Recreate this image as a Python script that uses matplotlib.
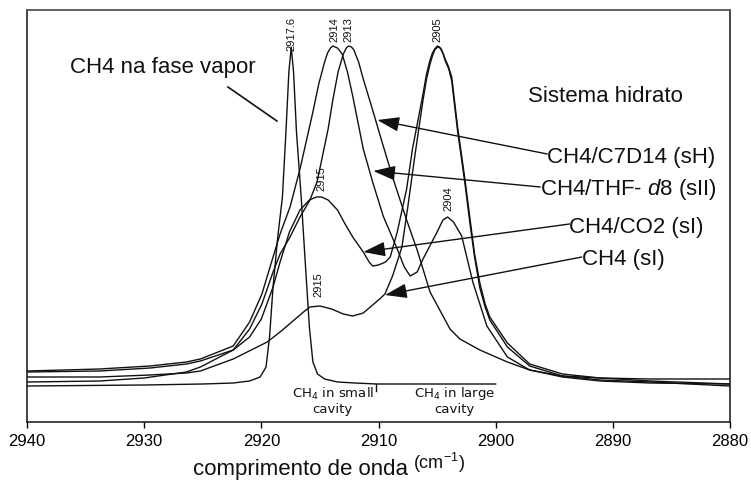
import matplotlib
matplotlib.use("Agg")
import matplotlib.pyplot as plt

plt.rcParams['font.family'] = ['Liberation Sans', 'DejaVu Sans']
plt.rcParams['mathtext.fontset'] = 'custom'
plt.rcParams['mathtext.rm'] = 'Liberation Sans'
plt.rcParams['mathtext.it'] = 'Liberation Sans:italic'

#---------------- DADOS ----------------

# CH4 na fase vapor
vapor_w = [2940.0, 2930.0, 2925.0, 2922.4, 2921.0, 2920.1, 2919.6, 2919.3, 2919.0, 2918.6,
           2918.2, 2917.9, 2917.65, 2917.45, 2917.25, 2917.0, 2916.6, 2916.2, 2915.9, 2915.6,
           2915.2, 2914.6, 2913.5, 2912.0, 2910.2, 2905.0, 2900.0]
vapor_i = [36, 37, 38, 39, 41, 45, 55, 85, 135, 185,
           225, 290, 350, 375, 350, 290, 225, 150, 95, 60,
           48, 43, 40, 39, 38, 38, 38]

# CH4 (sI)
ch4_w = [2940.0, 2933.8, 2929.5, 2926.4, 2925.2, 2922.4, 2919.5, 2918.4, 2917.6, 2916.7,
         2916.3, 2915.85, 2915.0, 2914.0, 2913.0, 2912.2, 2911.3, 2910.5, 2909.9, 2909.45,
         2908.8, 2908.0, 2907.5, 2906.9, 2906.2, 2905.9, 2905.6, 2905.4, 2905.2, 2905.05,
         2904.9, 2904.75, 2904.6, 2904.45, 2904.3, 2904.0, 2903.75, 2903.25, 2902.65, 2902.2,
         2901.8, 2901.35, 2900.9, 2900.5, 2899.0, 2897.1, 2894.3, 2891.1, 2886.8, 2880.0]
ch4_i = [45, 45, 47, 49, 51, 63, 80, 90, 98, 107,
         111, 115, 116, 113, 108, 106, 109, 117, 123, 128,
         146, 175, 215, 266, 322, 343, 358, 366, 372, 374,
         375, 374, 371, 367, 361, 353, 341, 291, 241, 199,
         165, 134, 115, 102, 75, 56, 46, 42, 40, 36]

# CH4/CO2 (sI)
co2_w = [2940.0, 2933.8, 2930.0, 2926.4, 2925.2, 2922.4, 2921.0, 2920.0, 2919.0, 2918.4,
         2917.6, 2916.7, 2915.9, 2915.3, 2914.85, 2914.3, 2913.5, 2912.9, 2912.2, 2911.3,
         2910.8, 2910.5, 2910.0, 2909.4, 2909.0, 2908.4, 2907.6, 2907.1, 2906.2, 2905.9,
         2905.6, 2905.4, 2905.2, 2905.05, 2904.95, 2904.8, 2904.65, 2904.5, 2904.35, 2904.05,
         2903.75, 2903.25, 2902.65, 2902.2, 2901.8, 2901.35, 2900.9, 2900.5, 2899.0, 2897.1,
         2894.3, 2891.1, 2886.8, 2880.0]
co2_i = [40, 41, 44, 50, 55, 72, 85, 103, 135, 160,
         190, 212, 222, 225, 225, 222, 212, 199, 185, 170,
         160, 156, 157, 160, 165, 190, 233, 273, 328, 348,
         362, 369, 373, 375, 376, 375, 373, 369, 364, 356,
         345, 295, 245, 204, 168, 139, 118, 105, 79, 58,
         48, 44, 41, 38]

# CH4/THF-d8 (sII)
thf_w = [2940.0, 2933.8, 2929.5, 2926.4, 2925.2, 2922.4, 2921.0, 2919.95, 2919.0, 2918.4,
         2917.55, 2916.7, 2915.6, 2915.1, 2914.6, 2914.35, 2914.1, 2913.9, 2913.7, 2913.5,
         2913.1, 2912.65, 2912.2, 2911.3, 2910.5, 2909.6, 2908.4, 2907.8, 2907.3, 2906.7,
         2906.2, 2905.0, 2904.5, 2904.1, 2903.6, 2902.9, 2901.95, 2900.75, 2899.0, 2897.1,
         2894.3, 2891.1, 2886.8, 2880.0]
thf_i = [51, 53, 56, 60, 63, 76, 100, 128, 165, 188,
         215, 253, 310, 338, 360, 369, 374, 376, 375, 374,
         368, 350, 326, 273, 240, 206, 173, 155, 146, 150,
         163, 190, 202, 205, 200, 186, 140, 96, 65, 52,
         45, 41, 39, 38]

# CH4/C7D14 (sH)
c7_w = [2940.0, 2933.8, 2929.5, 2926.4, 2925.2, 2922.4, 2921.0, 2919.95, 2919.0, 2918.4,
        2917.55, 2916.7, 2915.85, 2915.25, 2914.85, 2914.3, 2913.9, 2913.45, 2913.0, 2912.75,
        2912.55, 2912.3, 2912.1, 2911.7, 2911.3, 2910.5, 2909.9, 2908.8, 2907.6, 2906.7,
        2905.6, 2903.9, 2903.05, 2901.35, 2899.0, 2897.1, 2894.3, 2891.1, 2886.8, 2880.0]
c7_i = [50, 51, 54, 58, 61, 72, 93, 118, 150, 168,
        185, 205, 222, 240, 262, 293, 322, 350, 368, 374,
        376, 375, 372, 360, 343, 312, 288, 245, 202, 172,
        130, 93, 83, 72, 60, 52, 46, 44, 43, 43]

# rotulos dos picos (texto, posicao, base do texto)
picos_txt = ['2917.6', '2914', '2913', '2905', '2915', '2904', '2915']
picos_w = [2917.4, 2913.75, 2912.55, 2904.95, 2914.85, 2904.0, 2915.1]
picos_i = [372, 381, 381, 381, 232, 212, 126]

# legendas com setas: texto, posicao do texto, ponta da seta
leg_txt = ['CH4/C7D14 (sH)', r'CH4/THF- $\mathit{d8}$ (sII)', 'CH4/CO2 (sI)', 'CH4 (sI)']
leg_w = [2895.6, 2896.2, 2893.7, 2892.65]
leg_i = [266, 233, 196, 163]
seta_w = [2910.1, 2910.45, 2911.3, 2909.45]
seta_i = [302, 251, 170, 127]

xticks = [2940, 2930, 2920, 2910, 2900, 2890, 2880]


#---------------- GRAFICO ----------------

fig = plt.figure(figsize=(7.51, 4.85), dpi=100)
ax = fig.add_axes([27/751, 62/485, 703/751, 412/485])

cor = '#111111'
ax.plot(vapor_w, vapor_i, color=cor, lw=1.0)
ax.plot(ch4_w, ch4_i, color=cor, lw=1.0)
ax.plot(co2_w, co2_i, color=cor, lw=1.0)
ax.plot(thf_w, thf_i, color=cor, lw=1.0)
ax.plot(c7_w, c7_i, color=cor, lw=1.0)

# pequeno traco vertical do "small cavity"
ax.plot([vapor_w[-3], vapor_w[-3]], [vapor_i[-3], vapor_i[-3] - 7], color=cor, lw=1.0)

for t, w, i in zip(picos_txt, picos_w, picos_i):
    ax.text(w, i, t, rotation=90, ha='center', va='bottom', fontsize=8, color=cor, clip_on=True)

for t, w, i, sw, si in zip(leg_txt, leg_w, leg_i, seta_w, seta_i):
    ax.text(w, i, t, ha='left', va='center', fontsize=16, color=cor)
    ax.annotate('', xy=(sw, si), xytext=(w, i + 2),
                arrowprops=dict(arrowstyle='-|>,head_length=0.9,head_width=0.3',
                                color=cor, lw=1.0, mutation_scale=15,
                                shrinkA=0, shrinkB=0))

ax.text(2936.3, 355, 'CH4 na fase vapor', ha='left', va='center', fontsize=16, color=cor)
ax.plot([2922.85, 2918.67], [335, 301], color=cor, lw=1.2)
ax.text(2897.25, 326, 'Sistema hidrato', ha='left', va='center', fontsize=16, color=cor)

ax.text(2913.9, 22, 'CH$_4$ in small\ncavity', ha='center', va='center', fontsize=9.5,
        family='DejaVu Sans', linespacing=1.1, color=cor, math_fontfamily='dejavusans')
ax.text(2903.5, 22, 'CH$_4$ in large\ncavity', ha='center', va='center', fontsize=9.5,
        family='DejaVu Sans', linespacing=1.1, color=cor, math_fontfamily='dejavusans')

ax.set_xlim(2940, 2880)
ax.set_ylim(0, 412)
ax.set_yticks([])
ax.set_xticks(xticks)
ax.tick_params(axis='x', direction='out', length=4, width=1, pad=4, labelsize=12)
for s in ['left', 'bottom', 'right']:
    ax.spines[s].set_color(cor)
    ax.spines[s].set_linewidth(1.1)
ax.spines['top'].set_color('#555555')
ax.spines['top'].set_linewidth(1.3)

fig.text(193/751, 1 - 470/485, 'comprimento de onda', ha='left', va='center', fontsize=16, color=cor)
fig.text(413/751, 1 - 463/485, '(cm$^{-1}$)', ha='left', va='center', fontsize=13, color=cor)

fig.savefig('out.png', dpi=100)
